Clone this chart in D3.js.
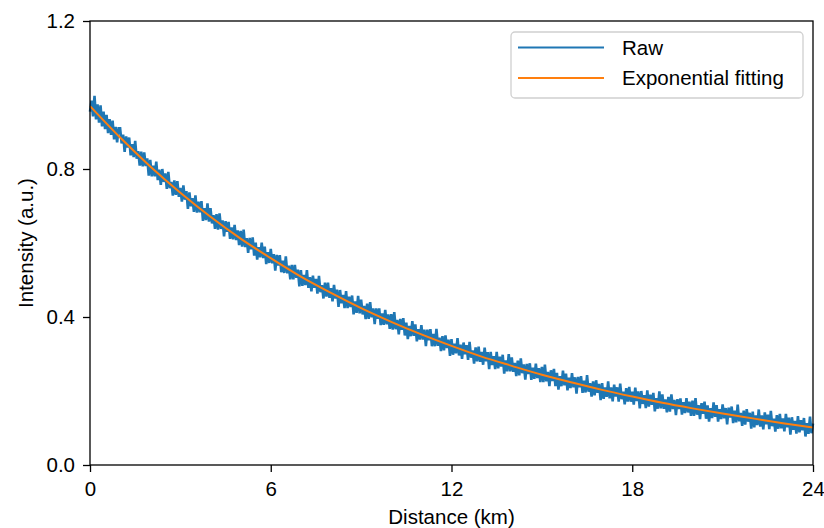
<!DOCTYPE html>
<html>
<head>
<meta charset="utf-8">
<script src="https://cdn.jsdelivr.net/npm/d3@7"></script>
<style>
  body { margin: 0; background: #fff; }
  svg text { font-family: "Liberation Sans", Arial, Helvetica, sans-serif; }
</style>
</head>
<body>
<div id="chart"></div>
<script>
var width = 824, height = 528;
var margin = { top: 21, right: 11, bottom: 63, left: 90 };

// tick labels
var xTicks = [0, 6, 12, 18, 24];
var yTicks = [0.0, 0.4, 0.8, 1.2];
var seriesNames = ["Raw", "Exponential fitting"];
var seriesColors = ["#1f77b4", "#ff7f0e"];

// exponential fitting, read at every km
var fitDistance = [0, 1, 2, 3, 4, 5, 6, 7, 8, 9, 10, 11, 12, 13, 14, 15, 16, 17, 18, 19, 20, 21, 22, 23, 24];
var fitIntensity = [0.970, 0.885, 0.807, 0.736, 0.671, 0.612, 0.559, 0.509, 0.465, 0.424, 0.387, 0.353, 0.322,
    0.293, 0.268, 0.244, 0.223, 0.203, 0.185, 0.168, 0.153, 0.139, 0.126, 0.113, 0.101];

// raw trace, one sample every 0.05 km (each row = 1 km)
var rawStepKm = 0.05;
var rawIntensity = [
    0.955, 0.985, 0.942, 0.998, 0.934, 0.975, 0.925, 0.972, 0.915, 0.955, 0.908, 0.946, 0.897, 0.935, 0.892, 0.931, 0.880, 0.914, 0.872, 0.910,
    0.910, 0.869, 0.893, 0.846, 0.888, 0.858, 0.885, 0.837, 0.867, 0.832, 0.876, 0.828, 0.848, 0.809, 0.847, 0.807, 0.845, 0.808, 0.829, 0.782,
    0.825, 0.780, 0.809, 0.780, 0.820, 0.770, 0.798, 0.757, 0.800, 0.765, 0.788, 0.746, 0.792, 0.748, 0.765, 0.728, 0.769, 0.730, 0.767, 0.725,
    0.749, 0.712, 0.756, 0.717, 0.740, 0.692, 0.737, 0.699, 0.721, 0.684, 0.729, 0.682, 0.712, 0.683, 0.713, 0.660, 0.694, 0.662, 0.707, 0.658,
    0.694, 0.653, 0.675, 0.638, 0.678, 0.636, 0.680, 0.638, 0.661, 0.618, 0.659, 0.630, 0.657, 0.611, 0.642, 0.610, 0.649, 0.608, 0.634, 0.594,
    0.633, 0.590, 0.636, 0.589, 0.613, 0.573, 0.614, 0.583, 0.615, 0.566, 0.601, 0.555, 0.589, 0.561, 0.601, 0.559, 0.590, 0.543, 0.575, 0.546,
    0.584, 0.545, 0.570, 0.525, 0.568, 0.539, 0.567, 0.521, 0.552, 0.519, 0.564, 0.518, 0.539, 0.502, 0.541, 0.502, 0.541, 0.506, 0.528, 0.483,
    0.527, 0.484, 0.514, 0.486, 0.527, 0.479, 0.508, 0.469, 0.512, 0.479, 0.503, 0.463, 0.511, 0.467, 0.486, 0.450, 0.493, 0.455, 0.493, 0.452,
    0.478, 0.442, 0.487, 0.450, 0.474, 0.427, 0.473, 0.437, 0.460, 0.424, 0.470, 0.424, 0.455, 0.427, 0.458, 0.407, 0.442, 0.411, 0.457, 0.410,
    0.447, 0.407, 0.430, 0.394, 0.436, 0.395, 0.440, 0.399, 0.423, 0.381, 0.423, 0.395, 0.423, 0.378, 0.410, 0.379, 0.419, 0.380, 0.407, 0.368,
    0.408, 0.366, 0.413, 0.367, 0.392, 0.353, 0.395, 0.365, 0.397, 0.350, 0.385, 0.340, 0.376, 0.348, 0.389, 0.349, 0.380, 0.334, 0.367, 0.339,
    0.378, 0.339, 0.366, 0.321, 0.366, 0.337, 0.367, 0.321, 0.354, 0.321, 0.368, 0.322, 0.344, 0.308, 0.348, 0.310, 0.350, 0.316, 0.339, 0.295,
    0.340, 0.298, 0.328, 0.302, 0.343, 0.296, 0.325, 0.287, 0.331, 0.299, 0.324, 0.284, 0.333, 0.290, 0.310, 0.274, 0.318, 0.280, 0.320, 0.279,
    0.306, 0.271, 0.317, 0.280, 0.305, 0.259, 0.306, 0.270, 0.294, 0.259, 0.306, 0.261, 0.293, 0.266, 0.298, 0.247, 0.283, 0.253, 0.300, 0.253,
    0.291, 0.252, 0.276, 0.240, 0.282, 0.242, 0.288, 0.248, 0.272, 0.231, 0.273, 0.246, 0.275, 0.230, 0.263, 0.233, 0.274, 0.235, 0.262, 0.224,
    0.265, 0.224, 0.271, 0.226, 0.252, 0.213, 0.256, 0.227, 0.260, 0.213, 0.249, 0.204, 0.240, 0.213, 0.255, 0.215, 0.247, 0.202, 0.236, 0.208,
    0.248, 0.210, 0.237, 0.193, 0.238, 0.210, 0.240, 0.195, 0.228, 0.196, 0.243, 0.198, 0.221, 0.185, 0.226, 0.188, 0.229, 0.195, 0.219, 0.175,
    0.221, 0.179, 0.210, 0.184, 0.226, 0.180, 0.210, 0.172, 0.217, 0.185, 0.210, 0.171, 0.220, 0.178, 0.198, 0.164, 0.208, 0.171, 0.211, 0.171,
    0.198, 0.163, 0.209, 0.173, 0.199, 0.153, 0.200, 0.165, 0.189, 0.154, 0.202, 0.158, 0.190, 0.163, 0.195, 0.145, 0.181, 0.152, 0.199, 0.153,
    0.191, 0.152, 0.177, 0.142, 0.184, 0.144, 0.191, 0.151, 0.176, 0.135, 0.178, 0.151, 0.180, 0.136, 0.170, 0.140, 0.181, 0.142, 0.171, 0.133,
    0.174, 0.133, 0.181, 0.136, 0.162, 0.124, 0.167, 0.138, 0.171, 0.125, 0.161, 0.117, 0.154, 0.127, 0.169, 0.130, 0.162, 0.117, 0.151, 0.124,
    0.164, 0.126, 0.154, 0.110, 0.155, 0.128, 0.158, 0.113, 0.147, 0.115, 0.163, 0.118, 0.141, 0.106, 0.147, 0.109, 0.151, 0.117, 0.141, 0.098,
    0.144, 0.102, 0.134, 0.108, 0.150, 0.104, 0.134, 0.096, 0.142, 0.110, 0.136, 0.097, 0.146, 0.105, 0.125, 0.090, 0.135, 0.098, 0.138, 0.099,
    0.126, 0.091, 0.138, 0.102, 0.128, 0.082, 0.129, 0.095, 0.119, 0.085, 0.132, 0.088, 0.121, 0.094, 0.127, 0.077, 0.113, 0.084, 0.131, 0.086,
    0.112
];

var x = d3.scaleLinear().domain([0, 24]).range([margin.left, width - margin.right]);
var y = d3.scaleLinear().domain([0, 1.2]).range([height - margin.bottom, margin.top]);

var svg = d3.select("#chart").append("svg")
    .attr("width", width)
    .attr("height", height);

// raw trace
var raw = rawIntensity.map(function (v, i) { return [i * rawStepKm, v]; });
svg.append("path")
    .datum(raw)
    .attr("fill", "none")
    .attr("stroke", seriesColors[0])
    .attr("stroke-width", 2.6)
    .attr("stroke-linejoin", "miter")
    .attr("stroke-miterlimit", 2)
    .attr("d", d3.line().x(d => x(d[0])).y(d => y(d[1])));

// fitted curve
var fit = fitDistance.map(function (d, i) { return [d, fitIntensity[i]]; });
svg.append("path")
    .datum(fit)
    .attr("fill", "none")
    .attr("stroke", seriesColors[1])
    .attr("stroke-width", 2)
    .attr("d", d3.line().curve(d3.curveMonotoneX).x(d => x(d[0])).y(d => y(d[1])));

// axes
var xAxis = svg.append("g")
    .attr("transform", "translate(0," + (height - margin.bottom) + ")")
    .call(d3.axisBottom(x).tickValues(xTicks).tickFormat(d3.format("d")).tickSize(7).tickPadding(9));
var yAxis = svg.append("g")
    .attr("transform", "translate(" + margin.left + ",0)")
    .call(d3.axisLeft(y).tickValues(yTicks).tickFormat(d3.format(".1f")).tickSize(7).tickPadding(8));

[xAxis, yAxis].forEach(function (g) {
    g.select(".domain").remove();
    g.selectAll(".tick line").attr("stroke", "#000").attr("stroke-width", 1.3);
    g.selectAll(".tick text")
        .attr("fill", "#000")
        .style("font-size", "20.5px")
        .style("font-family", '"Liberation Sans", Arial, sans-serif');
});

// frame
svg.append("rect")
    .attr("x", margin.left)
    .attr("y", margin.top)
    .attr("width", width - margin.left - margin.right)
    .attr("height", height - margin.top - margin.bottom)
    .attr("fill", "none")
    .attr("stroke", "#000")
    .attr("stroke-width", 1.3);

// axis titles
svg.append("text")
    .attr("x", (margin.left + width - margin.right) / 2)
    .attr("y", 524)
    .attr("text-anchor", "middle")
    .style("font-size", "20.5px")
    .text("Distance (km)");

svg.append("text")
    .attr("transform", "translate(33," + ((margin.top + height - margin.bottom) / 2) + ") rotate(-90)")
    .attr("text-anchor", "middle")
    .style("font-size", "20.5px")
    .text("Intensity (a.u.)");

// legend
var legend = svg.append("g");
legend.append("rect")
    .attr("x", 511)
    .attr("y", 32)
    .attr("width", 292)
    .attr("height", 66)
    .attr("rx", 4)
    .attr("fill", "#fff")
    .attr("fill-opacity", 0.8)
    .attr("stroke", "#d0d0d0")
    .attr("stroke-width", 1.3);

seriesNames.forEach(function (name, i) {
    var ly = 47.5 + i * 30.5;
    legend.append("line")
        .attr("x1", 518).attr("x2", 604)
        .attr("y1", ly).attr("y2", ly)
        .attr("stroke", seriesColors[i])
        .attr("stroke-width", 2);
    legend.append("text")
        .attr("x", 622)
        .attr("y", ly)
        .attr("dy", "0.35em")
        .style("font-size", "20.5px")
        .text(name);
});
</script>
</body>
</html>
